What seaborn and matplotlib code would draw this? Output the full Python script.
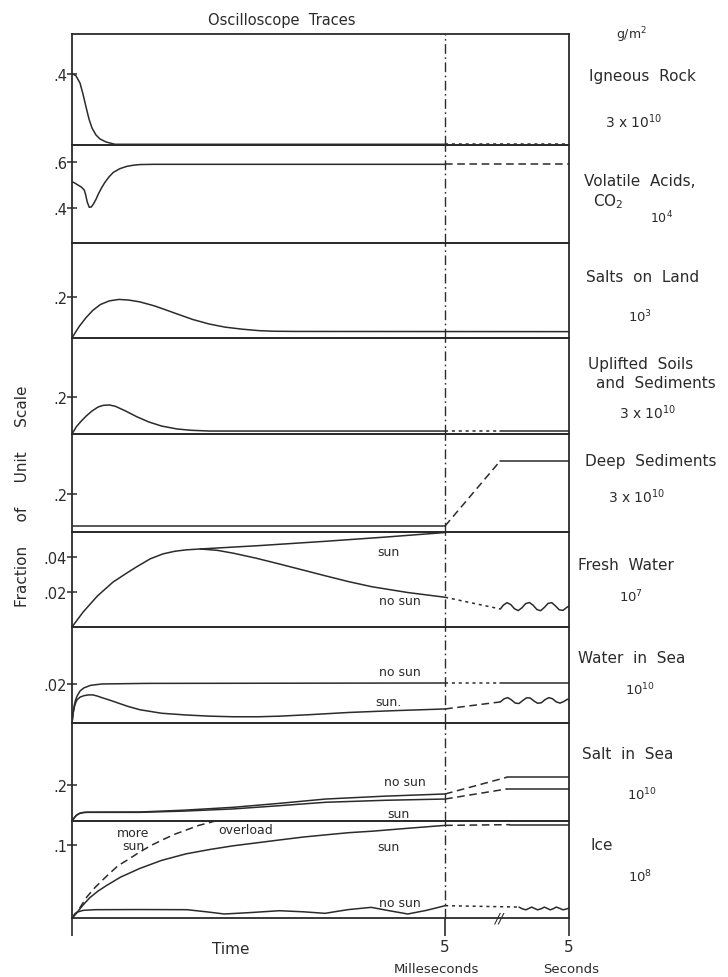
import numpy as np
import pandas as pd
import matplotlib
matplotlib.use("Agg")
import matplotlib.pyplot as plt
import seaborn as sns

sns.set_theme(style="white")
plt.rcParams["font.family"] = ["DejaVu Sans"]
INK = "#2b2b2b"

# ---------------- data (time axis: 0..5 ms, then compressed 5 ms .. 5 s) -------------
T_MS = 5.0      # 5 milliseconds mark
T_END = 6.66    # 5 seconds mark (right frame)

# Igneous rock
IGN_X = [0.00, 0.013, 0.054, 0.107, 0.147, 0.188, 0.228, 0.268, 0.322, 0.375, 0.456, 0.576, 5.00]
IGN_Y = [0.400, 0.400, 0.389, 0.349, 0.287, 0.214, 0.146, 0.096, 0.056, 0.034, 0.017, 0.004, 0.004]
IGN_RX = [5.00, 6.66]
IGN_RY = [0.004, 0.004]

# Volatile acids, CO2
VOL_X = [0.00, 0.02, 0.08, 0.13, 0.165, 0.185, 0.205, 0.232, 0.26, 0.286, 0.32, 0.353, 0.40,
         0.442, 0.50, 0.554, 0.64, 0.733, 0.82, 0.912, 1.10, 5.00]
VOL_Y = [0.513, 0.512, 0.500, 0.490, 0.478, 0.455, 0.425, 0.403, 0.405, 0.417, 0.437, 0.461, 0.490,
         0.512, 0.537, 0.555, 0.571, 0.581, 0.586, 0.589, 0.590, 0.590]
VOL_RX = [5.00, 6.66]
VOL_RY = [0.590, 0.590]

# Salts on land
SAL_X = [0.00, 0.05, 0.10, 0.19, 0.28, 0.38, 0.50, 0.63, 0.76, 0.91, 1.10, 1.25, 1.41, 1.62,
         1.84, 2.05, 2.28, 2.50, 2.70, 3.00, 6.66]
SAL_Y = [0.000, 0.030, 0.058, 0.100, 0.135, 0.163, 0.181, 0.188, 0.185, 0.176, 0.157, 0.138,
         0.117, 0.090, 0.068, 0.053, 0.043, 0.036, 0.033, 0.032, 0.031]

# Uplifted soils and sediments
UPL_X = [0.00, 0.06, 0.12, 0.19, 0.27, 0.35, 0.42, 0.50, 0.58, 0.72, 0.87, 1.03, 1.20, 1.41,
         1.60, 1.84, 5.00]
UPL_Y = [0.000, 0.040, 0.068, 0.097, 0.125, 0.146, 0.155, 0.157, 0.150, 0.124, 0.093, 0.065,
         0.043, 0.027, 0.020, 0.016, 0.016]
UPL_DOT_X = [5.00, 5.74]
UPL_DOT_Y = [0.016, 0.016]
UPL_END_X = [5.74, 6.66]
UPL_END_Y = [0.016, 0.016]

# Deep sediments
DEEP_X = [0.00, 5.00]
DEEP_Y = [0.032, 0.032]
DEEP_RAMP_X = [5.00, 5.74]
DEEP_RAMP_Y = [0.032, 0.375]
DEEP_TOP_X = [5.74, 6.66]
DEEP_TOP_Y = [0.375, 0.375]

# Fresh water
FW_X = [0.00, 0.15, 0.34, 0.55, 0.74, 0.87, 1.05, 1.22, 1.38, 1.53, 1.72]
FW_Y = [0.000, 0.0086, 0.0177, 0.0257, 0.0310, 0.0345, 0.0390, 0.0418, 0.0433, 0.0441, 0.0446]
FW_SUN_X = [1.72, 2.50, 3.40, 4.20, 5.00]
FW_SUN_Y = [0.0446, 0.0465, 0.0490, 0.0514, 0.0540]
FW_NOSUN_X = [1.72, 1.95, 2.16, 2.47, 2.78, 3.10, 3.40, 3.71, 4.02, 4.50, 5.00]
FW_NOSUN_Y = [0.0446, 0.0438, 0.0422, 0.0393, 0.0360, 0.0325, 0.0292, 0.0259, 0.0230, 0.0197, 0.0170]
FW_DOT_X = [5.00, 5.74]
FW_DOT_Y = [0.0170, 0.0103]
FW_WAVE_X = [5.74, 5.78, 5.83, 5.88, 5.93, 5.98, 6.03, 6.08, 6.13, 6.18, 6.23, 6.28, 6.33, 6.38,
             6.43, 6.48, 6.53, 6.58, 6.63, 6.66]
FW_WAVE_Y = [0.0103, 0.0125, 0.0139, 0.0128, 0.0104, 0.0094, 0.0110, 0.0134, 0.0140, 0.0124,
             0.0100, 0.0093, 0.0112, 0.0135, 0.0139, 0.0120, 0.0098, 0.0095, 0.0112, 0.0120]

# Water in sea
WS_NOSUN_X = [0.00, 0.015, 0.03, 0.05, 0.07, 0.11, 0.16, 0.25, 0.40, 1.00, 5.00]
WS_NOSUN_Y = [0.000, 0.005, 0.009, 0.012, 0.014, 0.0165, 0.0180, 0.0193, 0.0200, 0.0203, 0.0205]
WS_NOSUN_DOT_X = [5.00, 5.74]
WS_NOSUN_DOT_Y = [0.0205, 0.0205]
WS_NOSUN_END_X = [5.74, 6.66]
WS_NOSUN_END_Y = [0.0205, 0.0205]
WS_SUN_X = [0.00, 0.015, 0.03, 0.05, 0.07, 0.11, 0.16, 0.22, 0.28, 0.34, 0.40, 0.50, 0.59, 0.75,
            0.91, 1.20, 1.53, 1.85, 2.16, 2.50, 2.78, 3.20, 3.71, 4.30, 5.00]
WS_SUN_Y = [0.000, 0.005, 0.008, 0.0105, 0.0120, 0.0133, 0.0140, 0.0144, 0.0144, 0.0138, 0.0130,
            0.0118, 0.0106, 0.0085, 0.0068, 0.0050, 0.0041, 0.0035, 0.0032, 0.0032, 0.0035,
            0.0043, 0.0054, 0.0063, 0.0072]
WS_SUN_DASH_X = [5.00, 5.74]
WS_SUN_DASH_Y = [0.0072, 0.0108]
WS_WAVE_X = [5.74, 5.79, 5.84, 5.89, 5.94, 5.99, 6.04, 6.09, 6.14, 6.19, 6.24, 6.29, 6.34, 6.39,
             6.44, 6.49, 6.54, 6.59, 6.64, 6.66]
WS_WAVE_Y = [0.0108, 0.0124, 0.0130, 0.0118, 0.0102, 0.0100, 0.0115, 0.0129, 0.0128, 0.0113,
             0.0101, 0.0104, 0.0120, 0.0130, 0.0124, 0.0108, 0.0102, 0.0110, 0.0122, 0.0118]

# Salt in sea
SS_NOSUN_X = [0.00, 0.03, 0.06, 0.10, 0.15, 0.20, 0.91, 1.50, 2.16, 2.78, 3.40, 4.20, 5.00]
SS_NOSUN_Y = [0.000, 0.018, 0.032, 0.042, 0.047, 0.049, 0.050, 0.060, 0.076, 0.098, 0.122, 0.138, 0.150]
SS_SUN_X = [0.00, 0.03, 0.06, 0.10, 0.15, 0.20, 0.91, 1.50, 2.16, 2.78, 3.40, 4.20, 5.00]
SS_SUN_Y = [0.000, 0.018, 0.032, 0.042, 0.047, 0.048, 0.048, 0.055, 0.067, 0.085, 0.104, 0.115, 0.122]
SS_NOSUN_DASH_X = [5.00, 5.83]
SS_NOSUN_DASH_Y = [0.150, 0.243]
SS_SUN_DASH_X = [5.00, 5.83]
SS_SUN_DASH_Y = [0.122, 0.178]
SS_NOSUN_END_X = [5.83, 6.66]
SS_NOSUN_END_Y = [0.243, 0.243]
SS_SUN_END_X = [5.83, 6.66]
SS_SUN_END_Y = [0.178, 0.178]

# Ice
ICE_SUN_X = [0.00, 0.07, 0.15, 0.24, 0.35, 0.47, 0.65, 0.91, 1.20, 1.53, 1.85, 2.16, 2.47, 2.78,
             3.10, 3.40, 3.71, 4.02, 4.50, 5.00]
ICE_SUN_Y = [0.000, 0.008, 0.018, 0.028, 0.037, 0.045, 0.056, 0.068, 0.079, 0.088, 0.094, 0.099,
             0.103, 0.107, 0.111, 0.114, 0.117, 0.119, 0.123, 0.127]
ICE_SUN_DASH_X = [5.00, 5.87]
ICE_SUN_DASH_Y = [0.127, 0.128]
ICE_SUN_END_X = [5.87, 6.66]
ICE_SUN_END_Y = [0.128, 0.128]
ICE_MORE_X = [0.00, 0.07, 0.13, 0.20, 0.31, 0.47, 0.62, 0.75, 0.87, 1.05, 1.23, 1.38, 1.54, 1.70,
              1.85, 1.92]
ICE_MORE_Y = [0.000, 0.008, 0.018, 0.029, 0.042, 0.058, 0.072, 0.080, 0.088, 0.099, 0.108, 0.115,
              0.121, 0.127, 0.131, 0.133]
ICE_NOSUN_X = [0.00, 0.04, 0.07, 0.15, 0.31, 0.90, 1.54, 1.80, 2.04, 2.40, 2.78, 3.10, 3.39, 3.70,
               4.01, 4.25, 4.50, 4.75, 5.00]
ICE_NOSUN_Y = [0.000, 0.006, 0.008, 0.0105, 0.0114, 0.0116, 0.0114, 0.0085, 0.0055, 0.0075,
               0.0100, 0.0085, 0.0064, 0.0115, 0.0146, 0.0100, 0.0055, 0.0105, 0.0169]
ICE_NOSUN_DOT_X = [5.00, 5.99]
ICE_NOSUN_DOT_Y = [0.0169, 0.0150]
ICE_WAVE_X = [5.99, 6.03, 6.08, 6.12, 6.16, 6.20, 6.24, 6.29, 6.33, 6.37, 6.41, 6.45, 6.49, 6.54,
              6.58, 6.62, 6.66]
ICE_WAVE_Y = [0.0150, 0.0128, 0.0112, 0.0130, 0.0150, 0.0130, 0.0112, 0.0128, 0.0150, 0.0130,
              0.0112, 0.0128, 0.0150, 0.0130, 0.0112, 0.0122, 0.0135]

# panel settings
PANEL_YLIM = [(0, 0.625), (0.248, 0.674), (0, 0.463), (0, 0.519), (0, 0.516),
              (0, 0.0543), (0, 0.0492), (0, 0.544), (0, 0.133)]
PANEL_TICKS = [[0.4], [0.4, 0.6], [0.2], [0.2], [0.2], [0.02, 0.04], [0.02], [0.2], [0.1]]
PANEL_TICKLABELS = [[".4"], [".4", ".6"], [".2"], [".2"], [".2"], [".02", ".04"], [".02"], [".2"], [".1"]]
PANEL_HEIGHTS = [111, 98, 95, 96, 98, 95, 96, 98, 97]

# ---------------- figure ----------------
W, H = 728, 978
fig = plt.figure(figsize=(W / 100, H / 100), dpi=100)
fig.patch.set_facecolor("white")
gs = fig.add_gridspec(9, 1, height_ratios=PANEL_HEIGHTS, hspace=0,
                      left=72 / W, right=569 / W, top=1 - 35 / H, bottom=1 - 919 / H)
axes = [fig.add_subplot(gs[i]) for i in range(9)]

SOLID = "-"
DASH = (0, (5, 3))
DOT = (0, (2, 2.5))


def trace(ax, x, y, ls=SOLID, lw=1.1):
    sns.lineplot(x=np.asarray(x, float), y=np.asarray(y, float), ax=ax, color=INK,
                 linestyle=ls, lw=lw, estimator=None, errorbar=None, sort=False,
                 legend=False, solid_joinstyle="round")


for i, ax in enumerate(axes):
    ax.set_facecolor("none")
    ax.set_xlim(0, T_END)
    ax.set_ylim(*PANEL_YLIM[i])
    ax.set_yticks(PANEL_TICKS[i])
    ax.set_yticklabels(PANEL_TICKLABELS[i])
    ax.tick_params(axis="y", direction="inout", length=7, width=1.1, colors=INK,
                   labelsize=10.5, pad=0, left=True)
    for s in ax.spines.values():
        s.set_visible(True)
        s.set_color(INK)
        s.set_linewidth(1.3)
    ax.axvline(T_MS, color=INK, lw=1.0, linestyle=(0, (7, 2.5, 1.2, 2.5)))
    ax.set_xlabel("")
    ax.set_ylabel("")
    if i < 8:
        ax.set_xticks([])

# Igneous rock
trace(axes[0], IGN_X, IGN_Y)
trace(axes[0], IGN_RX, IGN_RY, DOT)
# Volatile acids
trace(axes[1], VOL_X, VOL_Y)
trace(axes[1], VOL_RX, VOL_RY, DASH)
# Salts on land
trace(axes[2], SAL_X, SAL_Y)
# Uplifted
trace(axes[3], UPL_X, UPL_Y)
trace(axes[3], UPL_DOT_X, UPL_DOT_Y, DOT)
trace(axes[3], UPL_END_X, UPL_END_Y)
# Deep sediments
trace(axes[4], DEEP_X, DEEP_Y)
trace(axes[4], DEEP_RAMP_X, DEEP_RAMP_Y, DASH)
trace(axes[4], DEEP_TOP_X, DEEP_TOP_Y)
# Fresh water
trace(axes[5], FW_X, FW_Y)
trace(axes[5], FW_SUN_X, FW_SUN_Y)
trace(axes[5], FW_NOSUN_X, FW_NOSUN_Y)
trace(axes[5], FW_DOT_X, FW_DOT_Y, DOT)
trace(axes[5], FW_WAVE_X, FW_WAVE_Y)
# Water in sea
trace(axes[6], WS_NOSUN_X, WS_NOSUN_Y)
trace(axes[6], WS_NOSUN_DOT_X, WS_NOSUN_DOT_Y, DOT)
trace(axes[6], WS_NOSUN_END_X, WS_NOSUN_END_Y)
trace(axes[6], WS_SUN_X, WS_SUN_Y)
trace(axes[6], WS_SUN_DASH_X, WS_SUN_DASH_Y, DASH)
trace(axes[6], WS_WAVE_X, WS_WAVE_Y)
# Salt in sea
trace(axes[7], SS_NOSUN_X, SS_NOSUN_Y)
trace(axes[7], SS_SUN_X, SS_SUN_Y)
trace(axes[7], SS_NOSUN_DASH_X, SS_NOSUN_DASH_Y, DASH)
trace(axes[7], SS_SUN_DASH_X, SS_SUN_DASH_Y, DASH)
trace(axes[7], SS_NOSUN_END_X, SS_NOSUN_END_Y)
trace(axes[7], SS_SUN_END_X, SS_SUN_END_Y)
# Ice
trace(axes[8], ICE_SUN_X, ICE_SUN_Y)
trace(axes[8], ICE_SUN_DASH_X, ICE_SUN_DASH_Y, DASH)
trace(axes[8], ICE_SUN_END_X, ICE_SUN_END_Y)
trace(axes[8], ICE_MORE_X, ICE_MORE_Y, DASH)
trace(axes[8], ICE_NOSUN_X, ICE_NOSUN_Y)
trace(axes[8], ICE_NOSUN_DOT_X, ICE_NOSUN_DOT_Y, DOT)
trace(axes[8], ICE_WAVE_X, ICE_WAVE_Y)

# bottom axis ticks
axb = axes[8]
axb.set_xticks([0, T_MS, T_END])
axb.set_xticklabels(["", "5", "5"])
axb.tick_params(axis="x", direction="out", length=13, width=1.2, colors=INK,
                labelsize=11, pad=2, bottom=True)

# in-panel labels
lab = dict(fontsize=9, color=INK, ha="center", va="center")
axes[5].text(4.24, 0.0434, "sun", **lab)
axes[5].text(4.40, 0.0149, "no sun", **lab)
axes[6].text(4.40, 0.0262, "no sun", **lab)
axes[6].text(4.24, 0.0108, "sun.", **lab)
axes[7].text(4.46, 0.222, "no sun", **lab)
axes[7].text(4.37, 0.039, "sun", **lab)
axes[8].text(0.82, 0.108, "more\nsun", linespacing=1.0, **lab)
axes[8].text(2.33, 0.122, "overload", **lab)
axes[8].text(4.24, 0.0986, "sun", **lab)
axes[8].text(4.40, 0.0219, "no sun", **lab)
axes[8].text(5.72, 0.0, "//", fontsize=10, color=INK, ha="center", va="center",
             style="italic")


def ftext(px, py, s, size=11, **kw):
    fig.text(px / W, 1 - py / H, s, fontsize=size, color=INK, ha="center", va="center", **kw)


ftext(282, 21, "Oscilloscope  Traces", 10.5)
ftext(632, 35, "g/m$^2$", 9)
ftext(642, 76, "Igneous  Rock")
ftext(634, 122, "3 x 10$^{10}$", 10)
ftext(640, 182, "Volatile  Acids,")
ftext(608, 202, "CO$_2$")
ftext(662, 218, "10$^4$", 9)
ftext(643, 277, "Salts  on  Land")
ftext(640, 317, "10$^3$", 9.5)
ftext(641, 365, "Uplifted  Soils")
ftext(656, 383, "and  Sediments")
ftext(648, 413, "3 x 10$^{10}$", 10)
ftext(651, 462, "Deep  Sediments")
ftext(637, 497, "3 x 10$^{10}$", 10)
ftext(626, 565, "Fresh  Water")
ftext(631, 597, "10$^7$", 9.5)
ftext(632, 659, "Water  in  Sea")
ftext(640, 690, "10$^{10}$", 9.5)
ftext(628, 755, "Salt  in  Sea")
ftext(642, 795, "10$^{10}$", 9.5)
ftext(602, 846, "Ice")
ftext(640, 877, "10$^8$", 9.5)
ftext(231, 950, "Time")
ftext(436, 970, "Milleseconds", 9.5)
ftext(571, 970, "Seconds", 9.5)
ftext(23, 496, "Fraction     of     Unit     Scale", 11, rotation=90)

fig.savefig("out.png", dpi=100, facecolor=fig.get_facecolor())
